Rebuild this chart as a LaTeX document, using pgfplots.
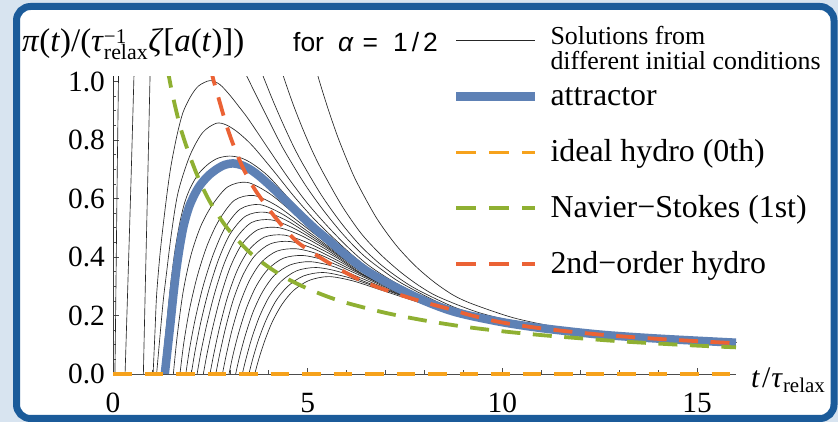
\documentclass[border=0pt]{standalone}
\usepackage{fontspec}
\setmainfont{Liberation Serif}
\newfontfamily\sansf{Liberation Sans}
\usepackage{pgfplots}
\pgfplotsset{compat=1.18}
\definecolor{attr}{HTML}{5E81B5}
\definecolor{nsg}{HTML}{8FB032}
\definecolor{sor}{HTML}{EB6235}
\definecolor{ideal}{HTML}{F6A21C}
\definecolor{bord}{HTML}{1B5B9A}
\definecolor{bgb}{HTML}{D8E4F0}
\pgfplotsset{
  blk/.style={black!85, line width=0.65bp, smooth, forget plot},
  dsh/.style={line width=3.8bp, dash pattern=on 19bp off 12.5bp, smooth, forget plot},
}
\newcommand{\lgt}[1]{\hspace{11bp}#1}
\begin{document}
\begin{tikzpicture}
\useasboundingbox (0,0) rectangle (838bp,422bp);
\fill[bgb] (0,0) rectangle (838bp,422bp);
\draw[bord, line width=7bp, fill=white, rounded corners=14bp] (16.5bp,3.5bp) rectangle (834bp,415.5bp);
\begin{axis}[
  at={(113bp,48bp)}, anchor=south west,
  scale only axis, width=623bp, height=297.2bp,
  xmin=0, xmax=16, ymin=0, ymax=1.016,
  axis lines=left,
  axis line style={-, draw=black!70, line width=0.8bp},
  xtick={0,5,10,15}, ytick={0,0.2,0.4,0.6,0.8,1.0},
  minor x tick num=4, minor y tick num=3,
  tick align=inside,
  major tick length=6bp, minor tick length=3.5bp,
  tick style={black!70, line width=0.6bp},
  tick label style={font=\fontsize{29.5}{30}\selectfont, inner sep=0pt},
  /pgf/number format/assume math mode=true,
  scaled y ticks=false,
  yticklabel style={/pgf/number format/fixed, /pgf/number format/fixed zerofill, /pgf/number format/precision=1, anchor=east, xshift=-8bp},
  xticklabel style={anchor=north, yshift=-19bp},
  legend style={at={(axis description cs:0.5442,1.1834)}, anchor=north west,
    draw=none, fill=none, inner sep=0pt, outer sep=0pt,
    font=\fontsize{32}{34}\selectfont, row sep=0pt,
    nodes={inner sep=0pt, outer sep=0pt, text height=27.9bp, text depth=27.9bp},
    /tikz/every even column/.append style={column sep=17bp}},
  legend cell align=left,
]
% ---- solutions from different initial conditions (upper family)
\addplot[blk] coordinates {(0,0) (0.012,1.1)};
\addplot[blk] coordinates {(5.0,1.15) (5.26,1.02) (5.51,0.912) (5.76,0.815) (6.01,0.731) (6.26,0.656) (6.76,0.535) (7.26,0.442) (7.76,0.370) (8.26,0.313) (8.76,0.268) (9.26,0.238) (10.26,0.193) (11.26,0.164) (12.26,0.144) (13.5,0.128) (16,0.1075)};
\addplot[blk] coordinates {(0.05,0) (0.08,0.35) (0.11,0.7) (0.15,1.1)};
\addplot[blk] coordinates {(4.17,1.104) (4.37,1.02) (4.62,0.924) (4.87,0.839) (5.12,0.762) (5.37,0.695) (5.87,0.577) (6.37,0.481) (6.87,0.409) (7.37,0.350) (7.87,0.301) (8.37,0.263) (9.37,0.211) (10.37,0.1785) (11.37,0.156) (12.49,0.1375) (14,0.1215) (16,0.107)};
\addplot[blk] coordinates {(0.31,0) (0.38,0.3) (0.46,0.65) (0.555,1.1)};
\addplot[blk] coordinates {(3.65,1.090) (3.85,1.02) (4.10,0.937) (4.35,0.860) (4.60,0.788) (4.85,0.724) (5.35,0.612) (5.85,0.518) (6.35,0.439) (6.85,0.377) (7.35,0.327) (7.85,0.286) (8.85,0.224) (9.85,0.188) (10.85,0.164) (12.49,0.1365) (14,0.1213) (16,0.1068)};
\addplot[blk] coordinates {(0.78,0) (0.83,0.3) (0.89,0.65) (0.965,1.1)};
\addplot[blk] coordinates {(3.23,1.075) (3.43,1.02) (3.68,0.952) (3.93,0.886) (4.18,0.819) (4.43,0.757) (4.93,0.648) (5.43,0.555) (5.93,0.474) (6.43,0.406) (6.93,0.354) (7.43,0.309) (8.43,0.241) (9.43,0.199) (10.43,0.172) (12.49,0.136) (14,0.1212) (16,0.1067)};
\addplot[blk] coordinates {(1.03,0) (1.08,0.15) (1.12,0.27) (1.2,0.40) (1.29,0.51) (1.4,0.63) (1.5,0.72) (1.65,0.82) (1.8,0.895) (2.0,0.95) (2.2,0.985) (2.49,1.003) (2.74,0.99) (2.99,0.955) (3.24,0.913) (3.49,0.869) (3.99,0.770) (4.49,0.6725) (4.99,0.584) (5.49,0.508) (5.99,0.439) (6.49,0.379) (6.99,0.333) (7.49,0.2955) (8.49,0.2325) (9.49,0.1944) (10.49,0.170) (12.49,0.1358) (14,0.1211) (16,0.1066)};
\addplot[blk] coordinates {(1.12,0) (1.2,0.12) (1.29,0.25) (1.37,0.34) (1.5,0.48) (1.67,0.62) (1.97,0.745) (2.3,0.825) (2.65,0.857) (2.9,0.852) (3.15,0.832) (3.4,0.804) (3.65,0.770) (4.15,0.690) (4.65,0.607) (5.15,0.532) (5.65,0.4665) (6.15,0.406) (6.65,0.354) (7.65,0.278) (8.65,0.221) (9.92,0.1805) (12.49,0.1356) (14,0.121) (16,0.1066)};
\addplot[blk] coordinates {(1.25,0) (1.3,0.07) (1.36,0.15) (1.42,0.23) (1.5,0.33) (1.6,0.43) (1.72,0.52) (1.85,0.59) (2.0,0.64) (2.2,0.685) (2.45,0.718) (2.7,0.738) (3.0,0.745) (3.3,0.738) (3.6,0.717) (4.0,0.675) (4.5,0.602) (5.0,0.535) (5.5,0.472) (6.0,0.415) (7.0,0.322) (8.0,0.255) (9.0,0.207) (10.0,0.178) (12.49,0.1355) (16,0.1066)};
% ---- lower family
\addplot[blk] coordinates {(1.55,0) (1.65,0.131) (1.80,0.280) (2.00,0.405) (2.25,0.504) (2.55,0.578) (2.95,0.640) (3.45,0.655) (4.05,0.614) (4.75,0.537) (5.55,0.449) (6.55,0.347) (8.0,0.249) (9.92,0.178) (11,0.156) (12.49,0.1345) (14,0.1205) (16,0.1065)};
\addplot[blk] coordinates {(1.72,0) (1.82,0.108) (1.97,0.224) (2.17,0.337) (2.42,0.440) (2.72,0.525) (3.12,0.594) (3.62,0.610) (4.22,0.574) (4.92,0.505) (5.72,0.424) (6.72,0.332) (7.72,0.266) (9.92,0.178) (11,0.156) (12.49,0.1345) (14,0.1205) (16,0.1065)};
\addplot[blk] coordinates {(1.87,0) (1.97,0.089) (2.12,0.193) (2.32,0.303) (2.57,0.407) (2.87,0.498) (3.27,0.564) (3.77,0.579) (4.37,0.545) (5.07,0.481) (5.87,0.404) (6.87,0.320) (7.87,0.256) (9.92,0.178) (11,0.156) (12.49,0.1345) (14,0.1205) (16,0.1065)};
\addplot[blk] coordinates {(2.01,0) (2.11,0.080) (2.26,0.180) (2.46,0.287) (2.71,0.391) (3.01,0.479) (3.41,0.540) (3.91,0.553) (4.51,0.521) (5.21,0.461) (6.01,0.388) (7.01,0.309) (8.01,0.247) (9.92,0.178) (11,0.156) (12.49,0.1345) (14,0.1205) (16,0.1065)};
\addplot[blk] coordinates {(2.16,0) (2.26,0.076) (2.41,0.170) (2.61,0.276) (2.86,0.379) (3.16,0.463) (3.56,0.518) (4.06,0.527) (4.66,0.497) (5.36,0.442) (6.16,0.372) (7.16,0.297) (8.16,0.239) (9.92,0.178) (11,0.156) (12.49,0.1345) (14,0.1205) (16,0.1065)};
\addplot[blk] coordinates {(2.32,0) (2.42,0.072) (2.57,0.164) (2.77,0.268) (3.02,0.368) (3.32,0.445) (3.72,0.493) (4.22,0.501) (4.82,0.474) (5.52,0.422) (6.32,0.354) (7.32,0.286) (8.32,0.232) (9.92,0.178) (11,0.156) (12.49,0.1345) (14,0.1205) (16,0.1065)};
\addplot[blk] coordinates {(2.49,0) (2.59,0.069) (2.74,0.161) (2.94,0.262) (3.19,0.354) (3.49,0.424) (3.89,0.468) (4.39,0.475) (4.99,0.449) (5.69,0.402) (6.49,0.336) (7.49,0.275) (8.49,0.223) (9.92,0.178) (11,0.156) (12.49,0.1345) (14,0.1205) (16,0.1065)};
\addplot[blk] coordinates {(2.64,0) (2.74,0.068) (2.89,0.157) (3.09,0.254) (3.34,0.339) (3.64,0.404) (4.04,0.445) (4.54,0.453) (5.14,0.429) (5.84,0.383) (6.64,0.324) (7.64,0.265) (8.64,0.216) (9.92,0.178) (11,0.156) (12.49,0.1345) (14,0.1205) (16,0.1065)};
\addplot[blk] coordinates {(2.81,0) (2.91,0.066) (3.06,0.152) (3.26,0.241) (3.51,0.321) (3.81,0.382) (4.21,0.420) (4.71,0.428) (5.31,0.408) (6.01,0.364) (6.81,0.312) (7.81,0.254) (8.81,0.208) (9.92,0.1775) (11,0.156) (12.49,0.1345) (14,0.1205) (16,0.1065)};
\addplot[blk] coordinates {(2.98,0) (3.08,0.064) (3.23,0.142) (3.43,0.226) (3.68,0.301) (3.98,0.358) (4.38,0.396) (4.88,0.405) (5.48,0.387) (6.18,0.347) (6.98,0.298) (7.98,0.243) (8.98,0.203) (9.92,0.1775) (11,0.156) (12.49,0.1345) (14,0.1205) (16,0.1065)};
\addplot[blk] coordinates {(3.15,0) (3.25,0.059) (3.40,0.133) (3.60,0.213) (3.85,0.283) (4.15,0.338) (4.55,0.373) (5.05,0.384) (5.65,0.368) (6.35,0.329) (7.15,0.285) (8.15,0.235) (9.15,0.198) (9.92,0.177) (11,0.156) (12.49,0.1345) (14,0.1205) (16,0.1065)};
\addplot[blk] coordinates {(3.32,0) (3.42,0.054) (3.57,0.125) (3.77,0.199) (4.02,0.266) (4.32,0.317) (4.72,0.353) (5.22,0.364) (5.82,0.349) (6.52,0.313) (7.32,0.274) (8.32,0.227) (9.32,0.193) (9.92,0.177) (11,0.156) (12.49,0.1345) (14,0.1205) (16,0.1065)};
\addplot[blk] coordinates {(3.49,0) (3.59,0.052) (3.74,0.118) (3.94,0.187) (4.19,0.251) (4.49,0.300) (4.89,0.335) (5.39,0.347) (5.99,0.332) (6.69,0.301) (7.49,0.264) (8.49,0.218) (9.49,0.188) (11,0.1555) (12.49,0.1345) (14,0.1205) (16,0.1065)};
\addplot[blk] coordinates {(3.64,0) (3.74,0.049) (3.89,0.111) (4.09,0.178) (4.34,0.238) (4.64,0.286) (5.04,0.320) (5.54,0.333) (6.14,0.319) (6.84,0.289) (7.64,0.254) (8.64,0.211) (9.64,0.184) (11,0.155) (12.49,0.134) (14,0.1205) (16,0.1065)};
% ---- attractor
\addplot[attr, line width=8.5bp, smooth, forget plot] coordinates {(1.33,0) (1.38,0.06) (1.43,0.12) (1.48,0.18) (1.55,0.27) (1.63,0.36) (1.72,0.44) (1.82,0.51) (1.95,0.57) (2.10,0.615) (2.25,0.648) (2.45,0.678) (2.66,0.700) (2.87,0.715) (3.08,0.720) (3.30,0.714) (3.55,0.697) (3.80,0.672) (4.10,0.636) (4.40,0.597) (4.80,0.545) (5.20,0.495) (5.60,0.450) (5.90,0.415) (6.50,0.354) (7.20,0.301) (8.00,0.250) (8.81,0.211) (9.92,0.179) (11.0,0.157) (12.49,0.135) (14.0,0.121) (16.0,0.107)};
% ---- Navier-Stokes
\addplot[dsh, nsg] coordinates {(1.40,1.043) (1.5,0.973) (1.6,0.913) (1.75,0.834) (2.0,0.735) (2.25,0.652) (2.5,0.586) (2.75,0.533) (3.0,0.488) (3.5,0.417) (4.0,0.365) (4.5,0.324) (5.0,0.292) (5.5,0.265) (6.0,0.243) (7.0,0.209) (8.0,0.183) (9.0,0.162) (10.0,0.146) (11,0.133) (12,0.122) (13,0.112) (14,0.104) (15,0.097) (16,0.091)};
% ---- 2nd-order hydro
\addplot[dsh, sor] coordinates {(2.50,1.05) (2.57,1.01) (2.75,0.925) (2.91,0.852) (3.1,0.78) (3.34,0.704) (3.6,0.64) (3.85,0.591) (4.2,0.53) (4.71,0.454) (5.3,0.40) (5.9,0.352) (6.5,0.312) (7.27,0.275) (8.0,0.245) (8.73,0.219) (9.07,0.205) (9.92,0.178) (11,0.156) (12.49,0.135) (14,0.120) (16,0.105)};
% ---- legend
\addlegendimage{legend image code/.code={\draw[black!85, line width=0.7bp] (0bp,9.5bp) -- (79bp,9.5bp);}}
\addlegendentry{\lgt{\raisebox{5.9bp}[0pt][0pt]{\fontsize{26}{22.4}\selectfont\begin{tabular}[t]{@{}l@{}}Solutions from\\different initial conditions\end{tabular}}}}
\addlegendimage{legend image code/.code={\draw[attr, line width=8.5bp] (0bp,9.3bp) -- (79bp,9.3bp);}}
\addlegendentry{\lgt{attractor}}
\addlegendimage{legend image code/.code={\draw[ideal, line width=3.8bp, dash pattern=on 20bp off 13bp] (0bp,9.3bp) -- (79bp,9.3bp);}}
\addlegendentry{\lgt{ideal hydro (0th)}}
\addlegendimage{legend image code/.code={\draw[nsg, line width=3.8bp, dash pattern=on 20bp off 13bp] (0bp,9.3bp) -- (79bp,9.3bp);}}
\addlegendentry{\lgt{Navier−Stokes (1st)}}
\addlegendimage{legend image code/.code={\draw[sor, line width=3.8bp, dash pattern=on 20bp off 13bp] (0bp,9.3bp) -- (79bp,9.3bp);}}
\addlegendentry{\lgt{2nd−order hydro}}
\end{axis}
% overlay axis for the ideal-hydro line (unclipped)
\begin{axis}[
  at={(113bp,48bp)}, anchor=south west,
  scale only axis, width=623bp, height=297.2bp,
  xmin=0, xmax=16, ymin=0, ymax=1.016,
  hide axis, clip=false,
]
\addplot[ideal, line width=3.8bp, dash pattern=on 18.5bp off 13bp, forget plot] coordinates {(0,0) (16,0)};
\end{axis}
\node[anchor=base west, inner sep=0pt] at (22bp,370bp) {\fontsize{33}{33}\selectfont\textit{π}(\textit{t})/(\textit{τ}$^{\mbox{\fontsize{21}{21}\selectfont −1}}_{\mbox{\fontsize{22}{22}\selectfont relax}}$\textit{ζ}[\textit{a}(\textit{t})])};
\node[anchor=base west, inner sep=0pt] at (293bp,370bp) {\sansf\fontsize{26.5}{26.5}\selectfont for\hspace{14bp}\textit{α}\hspace{9bp}=\hspace{15bp}1\hspace{4bp}/\hspace{4bp}2};
\node[anchor=base west, inner sep=0pt] at (751bp,35bp) {\fontsize{30}{30}\selectfont\textit{t}\hspace{2bp}/\hspace{1bp}\textit{τ}$_{\mbox{\fontsize{21}{21}\selectfont relax}}$};
\end{tikzpicture}
\end{document}
